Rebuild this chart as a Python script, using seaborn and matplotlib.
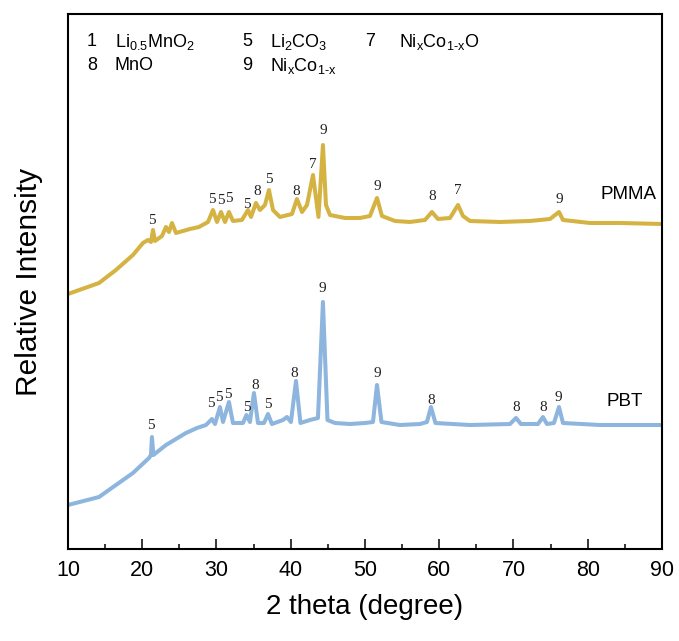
import matplotlib
matplotlib.use("Agg")
import matplotlib.pyplot as plt
from matplotlib.ticker import MultipleLocator
import pandas as pd
import seaborn as sns

# ---- XRD traces (2θ in degrees, intensity in arbitrary units, offset per sample) ----
pmma_2theta = [10.0, 14.18, 16.46, 18.75, 20.10, 20.77, 21.18, 21.45, 21.72, 22.66,
               23.20, 23.60, 24.01, 24.55, 26.43, 27.64, 28.86, 29.53, 30.07, 30.61,
               31.15, 31.68, 32.22, 33.43, 34.24, 34.65, 35.32, 35.86, 36.53, 37.07,
               37.61, 38.55, 40.17, 40.84, 41.52, 42.19, 43.00, 43.74, 44.34, 44.75,
               45.29, 47.31, 49.33, 50.67, 51.62, 52.29, 54.04, 56.06, 58.08, 59.02,
               59.83, 61.45, 62.53, 63.20, 64.14, 68.18, 72.22, 74.92, 76.13, 76.67,
               80.30, 84.34, 90.0]
pmma_intensity = [255, 266, 279, 294, 306, 309, 307, 319, 308, 313,
                  322, 317, 326, 316, 320, 322, 327, 339, 327, 337,
                  327, 337, 328, 329, 339, 332, 346, 339, 344, 359,
                  339, 332, 335, 350, 337, 344, 374, 332, 404, 344,
                  334, 331, 331, 333, 351, 333, 328, 327, 329, 337,
                  330, 331, 344, 333, 328, 327, 328, 330, 337, 329,
                  326, 326, 325]

pbt_2theta = [10.0, 14.18, 16.46, 18.75, 20.91, 21.18, 21.31, 21.50, 23.20, 25.89,
              27.37, 28.59, 29.39, 29.80, 30.47, 30.88, 31.68, 32.22, 33.57, 34.04,
              34.51, 35.05, 35.59, 36.40, 36.94, 37.47, 38.96, 39.49, 40.03, 40.71,
              41.31, 42.59, 43.67, 44.34, 44.95, 45.96, 47.98, 50.0, 51.08, 51.62,
              52.22, 54.71, 57.41, 58.35, 58.89, 59.49, 64.14, 69.53, 70.34, 71.01,
              73.30, 73.97, 74.51, 75.45, 76.13, 76.67, 81.65, 90.0]
pbt_intensity = [44, 52, 64, 76, 91, 94, 112, 94, 104, 116,
                 121, 124, 130, 125, 142, 127, 147, 126, 126, 134,
                 127, 156, 126, 126, 135, 125, 129, 132, 127, 168,
                 126, 129, 131, 247, 129, 126, 125, 126, 127, 164,
                 127, 124, 125, 127, 142, 126, 124, 125, 131, 125,
                 125, 132, 125, 126, 142, 126, 124, 124]

# ---- phase labels above reflections ----
pmma_label_2theta = [21.31, 29.39, 30.61, 31.68, 34.11, 35.45, 37.07, 40.71, 43.00,
                     44.34, 51.62, 59.02, 62.53, 76.13]
pmma_label_intensity = [328, 349, 348, 350, 344, 357, 369, 357, 384, 418, 362, 352, 358, 349]
pmma_label_text = ["5", "5", "5", "5", "5", "8", "5", "8", "7", "9", "9", "8", "7", "9"]

pbt_label_2theta = [21.18, 29.26, 30.34, 31.55, 34.11, 35.19, 36.94, 40.44, 44.21,
                    51.62, 58.89, 70.34, 73.97, 75.99]
pbt_label_intensity = [124, 146, 152, 155, 142, 164, 145, 176, 260, 176, 149, 142, 142, 152]
pbt_label_text = ["5", "5", "5", "5", "5", "8", "5", "8", "9", "9", "8", "8", "8", "9"]

# ---- phase key ----
key_numbers = ["1", "5", "7", "8", "9"]
key_phases = [r"Li$_{\mathrm{0.5}}$MnO$_{\mathrm{2}}$",
              r"Li$_{\mathrm{2}}$CO$_{\mathrm{3}}$",
              r"Ni$_{\mathrm{x}}$Co$_{\mathrm{1\text{-}x}}$O",
              "MnO",
              r"Ni$_{\mathrm{x}}$Co$_{\mathrm{1\text{-}x}}$"]
key_x_num = [0.032, 0.293, 0.501, 0.032, 0.293]
key_x_name = [0.079, 0.340, 0.558, 0.079, 0.340]
key_y = [0.948, 0.948, 0.948, 0.903, 0.903]

sample_names = ["PMMA", "PBT"]
sample_colors = {"PMMA": "#D5B343", "PBT": "#8DB5DE"}
sample_tag_2theta = [85.5, 85.0]
sample_tag_intensity = [354, 148]

sns.set_theme(style="ticks")
plt.rcParams["font.family"] = ["Liberation Sans", "DejaVu Sans"]
plt.rcParams["mathtext.fontset"] = "custom"
plt.rcParams["mathtext.rm"] = "Liberation Sans"
plt.rcParams["mathtext.it"] = "Liberation Sans:italic"
plt.rcParams["mathtext.bf"] = "Liberation Sans:bold"
plt.rcParams["text.color"] = "black"
plt.rcParams["axes.labelcolor"] = "black"
plt.rcParams["xtick.color"] = "black"

df = pd.concat([
    pd.DataFrame({"two_theta": pmma_2theta, "intensity": pmma_intensity, "sample": "PMMA"}),
    pd.DataFrame({"two_theta": pbt_2theta, "intensity": pbt_intensity, "sample": "PBT"}),
], ignore_index=True)

fig = plt.figure(figsize=(6.79, 6.41), dpi=100)
ax = fig.add_axes([0.1001, 0.1435, 0.8748, 0.8347])

sns.lineplot(data=df, x="two_theta", y="intensity", hue="sample", palette=sample_colors,
             estimator=None, sort=False, linewidth=2.9, legend=False, ax=ax)

label_font = dict(family=["Liberation Serif", "DejaVu Serif"], fontsize=11,
                  ha="center", va="center", color="#222222")
for tx, ty, s in zip(pmma_label_2theta, pmma_label_intensity, pmma_label_text):
    ax.text(tx, ty, s, **label_font)
for tx, ty, s in zip(pbt_label_2theta, pbt_label_intensity, pbt_label_text):
    ax.text(tx, ty, s, **label_font)

for name, tx, ty in zip(sample_names, sample_tag_2theta, sample_tag_intensity):
    ax.text(tx, ty, name, fontsize=13.5, ha="center", va="center", color="black")

for num, name, xn, xp, yk in zip(key_numbers, key_phases, key_x_num, key_x_name, key_y):
    ax.text(xn, yk, num, transform=ax.transAxes, fontsize=13, ha="left", va="center")
    ax.text(xp, yk, name, transform=ax.transAxes, fontsize=13, ha="left", va="center")

ax.set_xlim(10, 90)
ax.set_ylim(0, 535)
ax.xaxis.set_major_locator(MultipleLocator(10))
ax.xaxis.set_minor_locator(MultipleLocator(5))
ax.tick_params(axis="x", which="major", direction="in", length=7, width=1.1,
               labelsize=15.5, pad=8, colors="black")
ax.tick_params(axis="x", which="minor", direction="in", length=3.5, width=1.1)
ax.set_yticks([])
for sp in ax.spines.values():
    sp.set_visible(True)
    sp.set_linewidth(1.5)
    sp.set_color("black")

ax.set_xlabel("2 theta (degree)", fontsize=20, labelpad=9)
ax.set_ylabel("Relative Intensity", fontsize=21.5, labelpad=18)

fig.savefig("out.png", dpi=100)
